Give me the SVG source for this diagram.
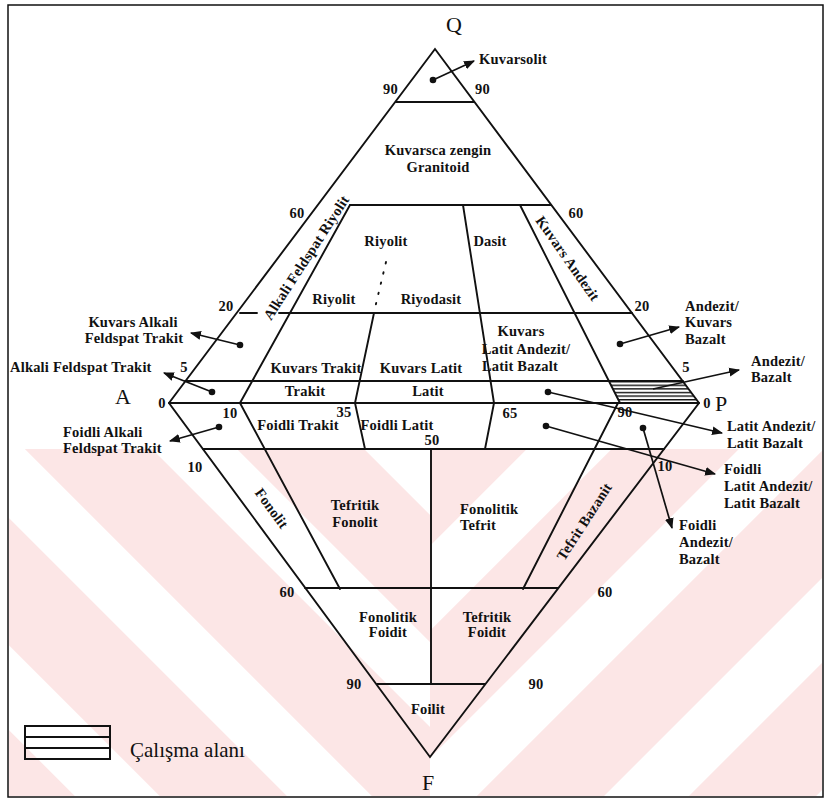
<svg xmlns="http://www.w3.org/2000/svg" width="832" height="803" viewBox="0 0 832 803">
<style>
.ln{stroke:#111;stroke-width:1.9;fill:none;stroke-linecap:round}
.t{font-family:"Liberation Serif","Times New Roman",serif;font-weight:bold;font-size:14.5px;letter-spacing:0.2px;fill:#111}
.m{text-anchor:middle}
.big{font-family:"Liberation Serif","Times New Roman",serif;font-size:22px;fill:#111;text-anchor:middle}
.ar{stroke:#111;stroke-width:1.7;fill:none;marker-end:url(#ah)}
.dot{fill:#111}
</style>
<defs>
<marker id="ah" viewBox="0 0 10 10" refX="9" refY="5" markerWidth="11" markerHeight="11" markerUnits="userSpaceOnUse" orient="auto"><path d="M0,1 L10,5 L0,9 z" fill="#111"/></marker>
<pattern id="hatch" patternUnits="userSpaceOnUse" x="0" y="381" width="20" height="3.6"><rect x="0" y="0" width="20" height="1.4" fill="#111"/></pattern>
<pattern id="wmL" patternUnits="userSpaceOnUse" width="150" height="150" patternTransform="rotate(-45)"><rect x="0" y="0" width="90" height="150" fill="#fce6e6"/></pattern>
<pattern id="wmR" patternUnits="userSpaceOnUse" width="150" height="150" patternTransform="rotate(45)"><rect x="0" y="0" width="90" height="150" fill="#fce6e6"/></pattern>
</defs>
<rect x="0" y="0" width="832" height="803" fill="#fff"/>
<g id="watermark">
<rect x="9" y="449" width="421" height="347" fill="url(#wmL)"/>
<rect x="430" y="449" width="392" height="347" fill="url(#wmR)"/>
</g>
<rect x="8" y="5" width="815" height="792" fill="none" stroke="#111" stroke-width="1.5"/>

<g id="hatched-area">
<polygon points="609,381 683,381 699,403 620,403" fill="url(#hatch)"/>
</g>

<g id="connectors">
<polygon class="ln" points="435,49 169,403 430,757 699,403"/>
<line class="ln" x1="169" y1="403" x2="699" y2="403"/>
<line class="ln" x1="396" y1="102" x2="474" y2="102"/>
<line class="ln" x1="350" y1="205" x2="551" y2="205"/>
<line class="ln" x1="350" y1="205" x2="240" y2="403"/>
<line class="ln" x1="520" y1="205" x2="620" y2="403"/>
<line class="ln" x1="463" y1="205" x2="494" y2="403"/>
<line class="ln" x1="240" y1="313" x2="257" y2="313"/>
<line class="ln" x1="279" y1="313" x2="632" y2="313"/>
<line class="ln" x1="185" y1="381" x2="683" y2="381"/>
<line class="ln" x1="374" y1="313" x2="355" y2="403"/>
<line class="ln" x1="386" y1="262" x2="375" y2="308" stroke-dasharray="1.5 9"/>
<line class="ln" x1="355" y1="403" x2="365" y2="449"/>
<line class="ln" x1="494" y1="403" x2="485" y2="449"/>
<line class="ln" x1="203" y1="449" x2="664" y2="449"/>
<line class="ln" x1="240" y1="403" x2="340" y2="589"/>
<line class="ln" x1="618" y1="403" x2="523" y2="589"/>
<line class="ln" x1="305" y1="588" x2="558" y2="588"/>
<line class="ln" x1="431" y1="449" x2="431" y2="684"/>
<line class="ln" x1="377" y1="684" x2="485" y2="684"/>
<line class="ar" x1="433" y1="80" x2="474" y2="61"/>
<line class="ar" x1="240" y1="345" x2="191" y2="333"/>
<line class="ar" x1="212" y1="392" x2="164" y2="373"/>
<line class="ar" x1="219" y1="427" x2="170" y2="441"/>
<line class="ar" x1="620" y1="344" x2="679" y2="327"/>
<line class="ar" x1="653" y1="389" x2="739" y2="370"/>
<line class="ar" x1="548" y1="392" x2="722" y2="433"/>
<line class="ar" x1="546" y1="426" x2="715" y2="474"/>
<line class="ar" x1="643" y1="428" x2="672" y2="528"/>
<circle class="dot" cx="433" cy="80" r="3.3"/>
<circle class="dot" cx="240" cy="345" r="3.3"/>
<circle class="dot" cx="212" cy="392" r="3.3"/>
<circle class="dot" cx="219" cy="427" r="3.3"/>
<circle class="dot" cx="620" cy="344" r="3.3"/>
<circle class="dot" cx="548" cy="392" r="3.3"/>
<circle class="dot" cx="546" cy="426" r="3.3"/>
<circle class="dot" cx="643" cy="428" r="3.3"/>
</g>

<g id="corner-labels">
<text class="big" x="454" y="32">Q</text>
<text class="big" x="123" y="404">A</text>
<text class="big" x="721" y="411">P</text>
<text class="big" x="428" y="790">F</text>
</g>

<g id="scale-numbers" class="t">
<text x="398" y="94" text-anchor="end">90</text>
<text x="475" y="94">90</text>
<text class="m" x="297" y="218">60</text>
<text class="m" x="576" y="218">60</text>
<text class="m" x="226" y="311">20</text>
<text class="m" x="642" y="311">20</text>
<text class="m" x="184" y="372">5</text>
<text class="m" x="686" y="372">5</text>
<text class="m" x="162" y="408">0</text>
<text class="m" x="707" y="408">0</text>
<text class="m" x="230" y="418">10</text>
<text class="m" x="344" y="417">35</text>
<text class="m" x="510" y="418">65</text>
<text class="m" x="625" y="417">90</text>
<text class="m" x="432" y="445">50</text>
<text class="m" x="195" y="472">10</text>
<text class="m" x="665" y="471">10</text>
<text class="m" x="287" y="597">60</text>
<text class="m" x="605" y="597">60</text>
<text class="m" x="354" y="689">90</text>
<text class="m" x="536" y="689">90</text>
</g>

<g id="field-kuvarsolit" class="t"><text x="479" y="64">Kuvarsolit</text></g>
<g id="field-granitoid" class="t"><text class="m" x="438" y="155">Kuvarsca zengin</text><text class="m" x="438" y="172">Granitoid</text></g>
<g id="field-riyolit" class="t"><text class="m" x="386" y="246">Riyolit</text></g>
<g id="field-dasit" class="t"><text class="m" x="490" y="246">Dasit</text></g>
<g id="field-afr" class="t"><text class="m" transform="translate(307,258) rotate(-57)" y="4">Alkali Feldspat Riyolit</text></g>
<g id="field-kuvars-andezit" class="t"><text class="m" transform="translate(567,259) rotate(55)" y="4">Kuvars Andezit</text></g>
<g id="field-riyolit2" class="t"><text class="m" x="334" y="304">Riyolit</text></g>
<g id="field-riyodasit" class="t"><text class="m" x="431" y="304">Riyodasit</text></g>
<g id="field-kaft" class="t"><text class="m" x="133" y="327">Kuvars Alkali</text><text class="m" x="134" y="343">Feldspat Trakit</text></g>
<g id="field-klab" class="t"><text class="m" x="521" y="336">Kuvars</text><text class="m" x="526" y="354">Latit Andezit/</text><text class="m" x="520" y="371">Latit Bazalt</text></g>
<g id="field-akb" class="t"><text x="685" y="311">Andezit/</text><text x="685" y="327">Kuvars</text><text x="685" y="344">Bazalt</text></g>
<g id="field-ab" class="t"><text x="751" y="366">Andezit/</text><text x="751" y="382">Bazalt</text></g>
<g id="field-aft" class="t"><text x="10" y="372">Alkali Feldspat Trakit</text></g>
<g id="field-kuvars-trakit" class="t"><text class="m" x="316" y="373">Kuvars Trakit</text></g>
<g id="field-kuvars-latit" class="t"><text class="m" x="421" y="373">Kuvars Latit</text></g>
<g id="field-trakit" class="t"><text class="m" x="305" y="396">Trakit</text></g>
<g id="field-latit" class="t"><text class="m" x="428" y="396">Latit</text></g>
<g id="field-foidli-trakit" class="t"><text class="m" x="298" y="430">Foidli Trakit</text></g>
<g id="field-foidli-latit" class="t"><text class="m" x="397" y="430">Foidli Latit</text></g>
<g id="field-faft" class="t"><text x="63" y="437">Foidli Alkali</text><text x="63" y="453">Feldspat Trakit</text></g>
<g id="field-lalb" class="t"><text x="727" y="431">Latit Andezit/</text><text x="727" y="448">Latit Bazalt</text></g>
<g id="field-flalb" class="t"><text x="724" y="474">Foidli</text><text x="724" y="491">Latit Andezit/</text><text x="724" y="508">Latit Bazalt</text></g>
<g id="field-fab" class="t"><text x="679" y="530">Foidli</text><text x="679" y="547">Andezit/</text><text x="679" y="564">Bazalt</text></g>
<g id="field-fonolit" class="t"><text class="m" transform="translate(271,509) rotate(54)" y="4">Fonolit</text></g>
<g id="field-tf" class="t"><text class="m" x="355" y="510">Tefritik</text><text class="m" x="355" y="527">Fonolit</text></g>
<g id="field-ft" class="t"><text x="460" y="514">Fonolitik</text><text x="460" y="530">Tefrit</text></g>
<g id="field-tb" class="t"><text class="m" transform="translate(585,522) rotate(-57)" y="4">Tefrit Bazanit</text></g>
<g id="field-ff" class="t"><text class="m" x="388" y="622">Fonolitik</text><text class="m" x="388" y="637">Foidit</text></g>
<g id="field-tfd" class="t"><text class="m" x="487" y="622">Tefritik</text><text class="m" x="487" y="637">Foidit</text></g>
<g id="field-foilit" class="t"><text class="m" x="428" y="714">Foilit</text></g>

<g id="legend">
<rect x="25" y="726" width="85" height="33" fill="none" stroke="#111" stroke-width="2"/>
<line x1="25" y1="737" x2="110" y2="737" stroke="#111" stroke-width="2"/>
<line x1="25" y1="748" x2="110" y2="748" stroke="#111" stroke-width="2"/>
<text x="130" y="757" style="font-family:'Liberation Serif','Times New Roman',serif;font-size:21px;fill:#111">Çalışma alanı</text>
</g>
</svg>
